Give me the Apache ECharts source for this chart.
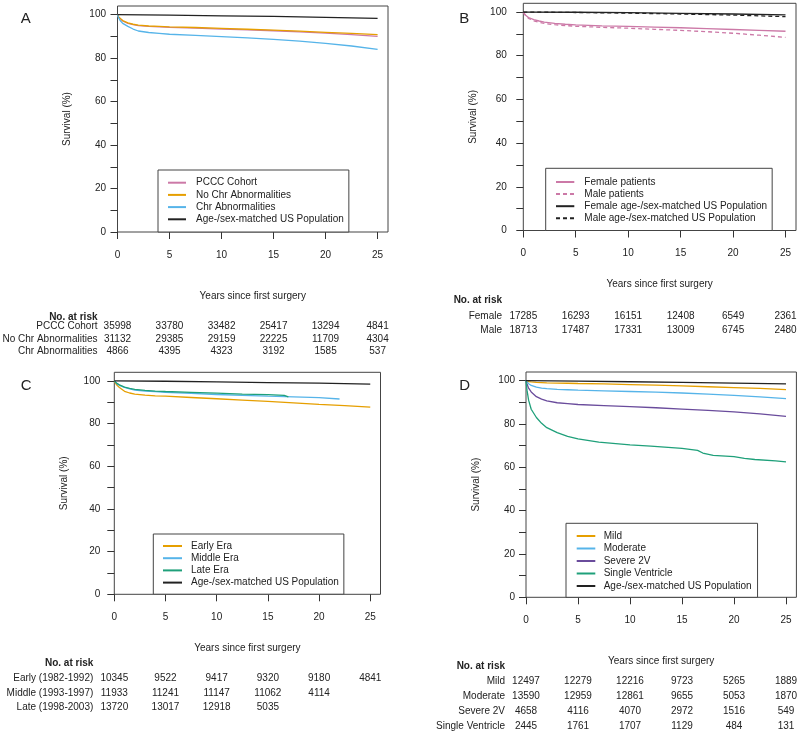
<!DOCTYPE html>
<html><head><meta charset="utf-8">
<script src="https://cdn.jsdelivr.net/npm/echarts@6/dist/echarts.min.js"></script>
<style>html,body{margin:0;padding:0;background:#fff}#c{width:800px;height:736px}</style>
</head><body><div id="c"></div>
<script>
// ---------------- DATA ----------------
const tCurve = [0,0.1,0.25,0.5,1,1.5,2,3,4,5,7.5,10,12.5,15,17.5,20,22.5,25];
const tPop = [0,5,10,15,20,25];
const tMiddle = [0,0.1,0.25,0.5,1,1.5,2,3,4,5,7.5,10,12.5,15,17.5,20,22];
const tLate = [0,0.1,0.25,0.5,1,1.5,2,3,4,5,7.5,10,12.5,15,16.6,17];
const tSingle = [0,0.1,0.25,0.5,1,1.5,2,3,4,5,7,10,12,15,16.5,17,18,20,21,22,24,25];

// Panel A
const aPccc  = [100,98.9,98.0,97.1,96.0,95.4,95.0,94.6,94.4,94.2,93.8,93.4,93.0,92.6,92.1,91.5,90.8,90.0];
const aNoChr = [100,99.0,98.2,97.3,96.2,95.6,95.2,94.8,94.6,94.4,94.1,93.7,93.3,92.9,92.4,91.9,91.4,90.8];
const aChr   = [100,98.6,97.3,96.0,94.6,93.4,92.5,91.8,91.4,91.0,90.5,89.9,89.3,88.6,87.8,86.8,85.6,84.0];
const aPop   = [100,99.8,99.5,99.2,98.8,98.3];
// Panel B
const bFemale    = [100,99.2,98.4,97.5,96.5,95.9,95.4,94.8,94.4,94.1,93.7,93.4,93.1,92.8,92.4,92.0,91.6,91.2];
const bMale      = [100,99.0,98.1,97.1,96.0,95.3,94.8,94.2,93.8,93.5,93.0,92.6,92.1,91.6,91.0,90.3,89.4,88.4];
const bFemalePop = [100,99.9,99.7,99.4,99.1,98.7];
const bMalePop   = [100,99.8,99.5,99.1,98.6,97.9];
// Panel C
const cEarly  = [100,99.0,98.0,96.9,95.1,94.3,93.8,93.3,93.0,92.8,92.2,91.6,91.0,90.4,89.7,89.0,88.4,87.7];
const cMiddle = [100,99.3,98.7,97.9,96.9,96.2,95.7,95.2,94.9,94.6,94.1,93.6,93.2,92.8,92.5,92.1,91.5];
const cLate   = [100,99.4,98.8,98.1,97.1,96.5,96.0,95.5,95.2,95.0,94.6,94.2,93.8,93.5,93.2,92.5];
const cPop    = [100,99.8,99.5,99.2,98.9,98.5];
// Panel D
const dMild     = [100,99.8,99.6,99.4,99.2,99.1,99.0,98.9,98.8,98.7,98.5,98.2,97.9,97.6,97.2,96.8,96.4,95.9];
const dModerate = [100,99.4,98.6,97.8,97.0,96.6,96.3,96.0,95.8,95.6,95.3,95.0,94.7,94.3,93.8,93.2,92.5,91.7];
const dSevere   = [100,98.3,96.6,94.8,92.6,91.5,90.7,89.8,89.4,89.0,88.5,88.0,87.5,86.9,86.3,85.6,84.7,83.5];
const dSingle   = [100,95.5,91.0,86.8,83.0,80.3,78.3,76.0,74.3,73.1,71.6,70.4,69.8,68.7,67.8,66.6,65.5,64.9,64.1,63.6,63.0,62.5];
const dPop      = [100,99.8,99.5,99.2,98.9,98.5];

// Ticks
const xTicks = [0,5,10,15,20,25];
const yTicks = [0,10,20,30,40,50,60,70,80,90,100];
const yLabels = [0,20,40,60,80,100];

// Numbers at risk
const riskTimes = [0,5,10,15,20,25];
const riskA_labels = ['PCCC Cohort','No Chr Abnormalities','Chr Abnormalities'];
const riskA_pccc  = [35998,33780,33482,25417,13294,4841];
const riskA_noChr = [31132,29385,29159,22225,11709,4304];
const riskA_chr   = [4866,4395,4323,3192,1585,537];
const riskB_labels = ['Female','Male'];
const riskB_female = [17285,16293,16151,12408,6549,2361];
const riskB_male   = [18713,17487,17331,13009,6745,2480];
const riskC_labels = ['Early (1982-1992)','Middle (1993-1997)','Late (1998-2003)'];
const riskC_early  = [10345,9522,9417,9320,9180,4841];
const riskC_middle = [11933,11241,11147,11062,4114];
const riskC_late   = [13720,13017,12918,5035];
const riskD_labels = ['Mild','Moderate','Severe 2V','Single Ventricle'];
const riskD_mild     = [12497,12279,12216,9723,5265,1889];
const riskD_moderate = [13590,12959,12861,9655,5053,1870];
const riskD_severe   = [4658,4116,4070,2972,1516,549];
const riskD_single   = [2445,1761,1707,1129,484,131];

// ---------------- STYLE / LAYOUT ----------------
const FONT = '"Liberation Sans", Arial, Helvetica, sans-serif';
const TXT = '#222';
const PINK = '#CC79A7', ORANGE = '#E69F00', SKY = '#56B4E9', GREEN = '#1FA07A', PURPLE = '#6A4C9C', BLACK = '#222';
const POP = 'Age-/sex-matched US Population';

const grids = [
  {left:117.5, top:6,     width:270.5, height:226},
  {left:523.3, top:3.3,   width:272.7, height:227.2},
  {left:114.3, top:372.3, width:266.2, height:222},
  {left:526,   top:372,   width:270.4, height:225.3}
];
const xNameGap = [59, 49, 48.5, 59];
const yLabelMargin = [11.5, 16.5, 14, 11];

function xAx(i){
  return {type:'value', gridIndex:i, min:0, max:26,
    axisLine:{show:false}, splitLine:{show:false},
    axisTick:{show:true, length:7, customValues:xTicks, lineStyle:{color:'#333', width:1}},
    axisLabel:{customValues:xTicks, margin:18, fontSize:10, color:TXT, fontFamily:FONT},
    name:'Years since first surgery', nameLocation:'middle', nameGap:xNameGap[i],
    nameTextStyle:{fontSize:10, color:TXT, fontFamily:FONT}};
}
function yAx(i){
  return {type:'value', gridIndex:i, min:0, max:104,
    axisLine:{show:false}, splitLine:{show:false},
    axisTick:{show:true, length:7, customValues:yTicks, lineStyle:{color:'#333', width:1}},
    axisLabel:{customValues:yLabels, margin:yLabelMargin[i], fontSize:10, color:TXT, fontFamily:FONT},
    name:'Survival (%)', nameLocation:'middle', nameRotate:90, nameGap:45,
    nameTextStyle:{fontSize:10, color:TXT, fontFamily:FONT}};
}
function line(name, p, ts, vs, color, dashed){
  return {type:'line', name, xAxisIndex:p, yAxisIndex:p,
    data: ts.map((t,k)=>[t, vs[k]]), symbol:'none', showSymbol:false, smooth:false,
    lineStyle:{color, width:1.3, type: dashed ? [4,3] : 'solid'},
    itemStyle:{color}, silent:true, animation:false};
}
function leg(data, left, top, padding, itemWidth, gap, textPad){
  return {data, orient:'vertical', left, top, padding, itemWidth, itemHeight:10, itemGap:gap,
    selectedMode:false, borderColor:'#444', borderWidth:1, borderRadius:0, backgroundColor:'#fff',
    itemStyle:{opacity:0, color:'transparent', borderWidth:0},
    textStyle:{fontSize:10, lineHeight:12, color:TXT, fontFamily:FONT, padding:[0,0,0,textPad]}};
}

const series = [
  line('PCCC Cohort',0,tCurve,aPccc,PINK),
  line('No Chr Abnormalities',0,tCurve,aNoChr,ORANGE),
  line('Chr Abnormalities',0,tCurve,aChr,SKY),
  line(POP,0,tPop,aPop,BLACK),
  line('Female patients',1,tCurve,bFemale,PINK),
  line('Male patients',1,tCurve,bMale,PINK,true),
  line('Female age-/sex-matched US Population',1,tPop,bFemalePop,BLACK),
  line('Male age-/sex-matched US Population',1,tPop,bMalePop,BLACK,true),
  line('Early Era',2,tCurve,cEarly,ORANGE),
  line('Middle Era',2,tMiddle,cMiddle,SKY),
  line('Late Era',2,tLate,cLate,GREEN),
  line(POP,2,tPop,cPop,BLACK),
  line('Mild',3,tCurve,dMild,ORANGE),
  line('Moderate',3,tCurve,dModerate,SKY),
  line('Severe 2V',3,tCurve,dSevere,PURPLE),
  line('Single Ventricle',3,tSingle,dSingle,GREEN),
  line(POP,3,tPop,dPop,BLACK)
];

const option = {
  animation:false,
  backgroundColor:'#fff',
  textStyle:{fontFamily:FONT},
  grid: grids.map(g=>Object.assign({show:true, borderColor:'#444', borderWidth:1, backgroundColor:'transparent', containLabel:false}, g)),
  xAxis:[0,1,2,3].map(xAx),
  yAxis:[0,1,2,3].map(yAx),
  legend:[
    leg(['PCCC Cohort','No Chr Abnormalities','Chr Abnormalities',POP],158,170,[6.7,5,6.7,9],18,0.2,5),
    leg(['Female patients','Male patients','Female age-/sex-matched US Population','Male age-/sex-matched US Population'],545.7,168.3,[7.7,5,6.2,9.3],18.3,0.1,5),
    leg(['Early Era','Middle Era','Late Era',POP],153.3,534,[6,5,5.6,8.7],19,0.2,4),
    leg(['Mild','Moderate','Severe 2V','Single Ventricle',POP],566,523.3,[6.7,6,5.3,9.7],18.6,0.5,3.4)
  ],
  series
};

const chart = echarts.init(document.getElementById('c'), null, {renderer:'canvas'});
chart.setOption(option);

// ---------------- TEXT: panel letters and risk tables ----------------
function txt(x, y, s, align, font){
  return {type:'text', x, y, silent:true,
    style:{text:String(s), align, verticalAlign:'middle', font, fill:TXT}};
}
const els = [];
const letterFont = '15px ' + FONT;
els.push(txt(25.8,18.8,'A','center',letterFont));
els.push(txt(464.2,18.7,'B','center',letterFont));
els.push(txt(26.2,386.2,'C','center',letterFont));
els.push(txt(464.7,386.2,'D','center',letterFont));

const tableLayout = [
  {p:0, headerY:317,   rowY:[326.7,339,351],            right:97.5},
  {p:1, headerY:300.7, rowY:[316,330],                  right:502},
  {p:2, headerY:663.3, rowY:[678.7,693,707.3],          right:93.3},
  {p:3, headerY:666.7, rowY:[681.3,696.7,711.7,726.7],  right:505}
];
const tables = [
  {labels:riskA_labels, rows:[riskA_pccc, riskA_noChr, riskA_chr]},
  {labels:riskB_labels, rows:[riskB_female, riskB_male]},
  {labels:riskC_labels, rows:[riskC_early, riskC_middle, riskC_late]},
  {labels:riskD_labels, rows:[riskD_mild, riskD_moderate, riskD_severe, riskD_single]}
];
const normFont = '10px ' + FONT, boldFont = 'bold 10px ' + FONT;
tables.forEach((tb, k)=>{
  const L = tableLayout[k];
  els.push(txt(L.right, L.headerY, 'No. at risk', 'right', boldFont));
  tb.rows.forEach((row, r)=>{
    els.push(txt(L.right, L.rowY[r], tb.labels[r], 'right', normFont));
    row.forEach((v, j)=>{
      const px = chart.convertToPixel({xAxisIndex:L.p}, riskTimes[j]);
      els.push(txt(px, L.rowY[r], v, 'center', normFont));
    });
  });
});
chart.setOption({graphic:{elements:els}});
</script>
</body></html>
